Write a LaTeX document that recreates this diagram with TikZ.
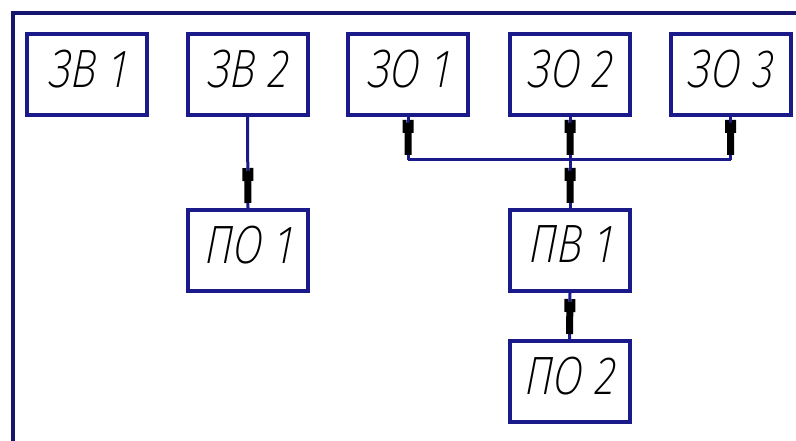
\documentclass[tikz,border=0pt]{standalone}
\usepackage{fontspec}
\newfontfamily\gost{Fira Sans ExtraLight Italic}[FakeStretch=0.8, FakeSlant=0.08]
\definecolor{navy}{RGB}{26,26,138}
\definecolor{framec}{RGB}{22,22,110}
\pgfdeclarearrow{
  name = GostTip,
  setup code = {
    \pgfarrowssettipend{0pt}
    \pgfarrowssetlineend{0pt}
    \pgfarrowssetvisualtipend{0pt}
    \pgfarrowssetbackend{-40pt}
    \pgfarrowssetvisualbackend{-40pt}
    \pgfarrowshullpoint{0pt}{0pt}
    \pgfarrowsupperhullpoint{-40pt}{5.5pt}
  },
  drawing code = {
    \pgfpathmoveto{\pgfqpoint{-5pt}{-3.5pt}}
    \pgfpathlineto{\pgfqpoint{-5pt}{3.5pt}}
    \pgfpathlineto{\pgfqpoint{-27pt}{3.5pt}}
    \pgfpathlineto{\pgfqpoint{-27pt}{5.5pt}}
    \pgfpathlineto{\pgfqpoint{-40pt}{5.5pt}}
    \pgfpathlineto{\pgfqpoint{-40pt}{1.5pt}}
    \pgfpathlineto{\pgfqpoint{-37pt}{1.5pt}}
    \pgfpathlineto{\pgfqpoint{-37pt}{-1.5pt}}
    \pgfpathlineto{\pgfqpoint{-40pt}{-1.5pt}}
    \pgfpathlineto{\pgfqpoint{-40pt}{-5.5pt}}
    \pgfpathlineto{\pgfqpoint{-27pt}{-5.5pt}}
    \pgfpathlineto{\pgfqpoint{-27pt}{-3.5pt}}
    \pgfpathclose
    \pgfusepathqfill
  }
}
\tikzset{
  blk/.style={draw=navy, line width=4pt, fill=white, minimum width=120pt,
    minimum height=81pt, inner sep=0pt, text depth=12pt,
    font=\gost\fontsize{54}{54}\selectfont},
  conn/.style={draw=navy, line width=3pt},
  arr/.style={conn, -{GostTip[color=black]}}
}
\begin{document}
\begin{tikzpicture}[x=1pt, y=-1pt]
\useasboundingbox (0,0) rectangle (796,441);
\fill[white] (0,0) rectangle (796,441);
\draw[framec, line width=3.5pt] (13,445) -- (13,13) -- (800,13);
\node[blk] (zv1) at (87,74.5) {ЗВ 1};
\node[blk] (zv2) at (247.5,74.5) {ЗВ 2};
\node[blk] (zo1) at (408,74.5) {ЗО 1};
\node[blk] (zo2) at (570,74.5) {ЗО 2};
\node[blk] (zo3) at (730.5,74.5) {ЗО 3};
\node[blk] (po1) at (248,250.5) {ПО 1};
\node[blk] (pv1) at (570,250.5) {ПВ 1};
\node[blk] (po2) at (569.5,381.5) {ПО 2};
\coordinate (bus) at (570,160);
\draw[arr] (zv2.south) -- (po1.north);
\draw[conn] (zo1.south |- bus) -- (zo3.south |- bus);
\draw[arr] (zo1.south) -- (zo1.south |- bus);
\draw[arr] (zo2.south) -- (bus);
\draw[arr] (zo3.south) -- (zo3.south |- bus);
\draw[arr] (bus) -- (pv1.north);
\draw[arr] (pv1.south) -- (po2.north);
\end{tikzpicture}
\end{document}
